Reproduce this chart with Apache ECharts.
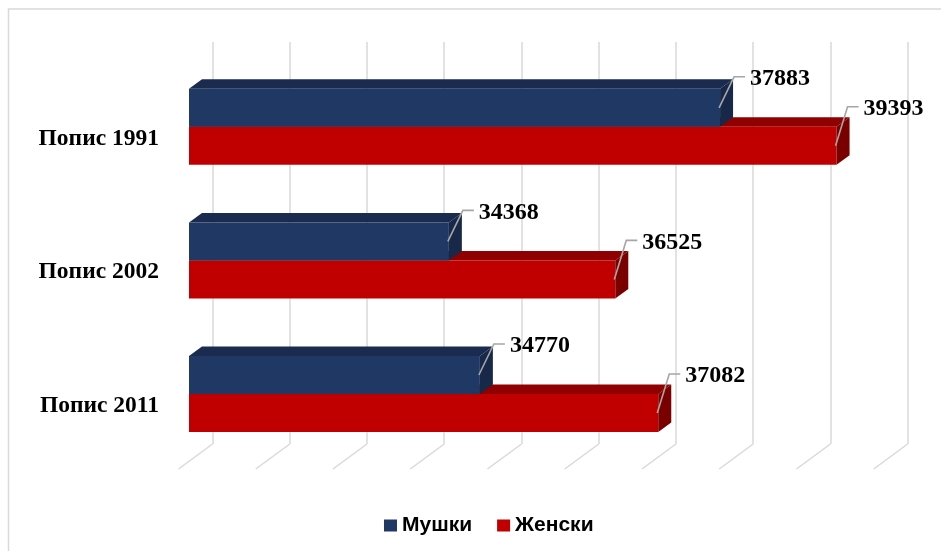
<!DOCTYPE html>
<html><head><meta charset="utf-8">
<script src="https://cdn.jsdelivr.net/npm/echarts@6/dist/echarts.min.js"></script>
<style>html,body{margin:0;padding:0;background:#fff}#c{width:941px;height:551px}</style>
</head><body><div id="c"></div>
<script>
// ---- data ----
const categories = ['Попис 1991', 'Попис 2002', 'Попис 2011'];
const maleValues = [37883, 34368, 34770];
const femaleValues = [39393, 36525, 37082];
const seriesNames = ['Мушки', 'Женски'];
const axisTicks = [31000, 32000, 33000, 34000, 35000, 36000, 37000, 38000, 39000, 40000];
const axisMin = 31000, axisMax = 40000, axisInterval = 1000;

// ---- style constants ----
const BAR_H = 38, DX = 13, DY = -9.5, FLOOR_DX = -34, FLOOR_DY = 25;
const GRID_COLOR = '#d9d9d9';
const blueColors = { front: '#203864', top: '#1b2b4f', side: '#172848' };
const redColors = { front: '#c00000', top: '#900000', side: '#7a0000' };
const blueLabel = { kx: 14, ky: -12 };
const redLabel = { kx: 11, ky: -20 };

function barRenderer(upper, colors, lbl) {
  return function (params, api) {
    const v = api.value(0), c = api.value(1);
    const p0 = api.coord([axisMin, c]);
    const p1 = api.coord([v, c]);
    const h = BAR_H;
    const yTop = upper ? p1[1] - h : p1[1];
    const x0 = p0[0], x1 = p1[0];
    const kx = x1 + lbl.kx, ky = yTop + lbl.ky;
    return {
      type: 'group', children: [
        { type: 'polygon', shape: { points: [[x0, yTop], [x1, yTop], [x1 + DX, yTop + DY], [x0 + DX, yTop + DY]] }, style: { fill: colors.top } },
        { type: 'rect', shape: { x: x0, y: yTop, width: x1 - x0, height: h }, style: { fill: colors.front } },
        { type: 'polygon', shape: { points: [[x1, yTop], [x1 + DX, yTop + DY], [x1 + DX, yTop + h + DY], [x1, yTop + h]] }, style: { fill: colors.side } },
        { type: 'polyline', shape: { points: [[x1 - 1, yTop + h / 2], [kx, ky], [kx + 11, ky]] }, style: { stroke: '#a6a6a6', lineWidth: 1.6, fill: 'none' } },
        { type: 'text', x: kx + 16, y: ky + 2, style: { text: String(v), fontFamily: 'Liberation Serif', fontWeight: 'bold', fontSize: 24, fill: '#000', align: 'left', verticalAlign: 'middle' } }
      ]
    };
  };
}

function floorRenderer(params, api) {
  const p = api.coord([api.value(0), 0]);
  return { type: 'line', shape: { x1: p[0], y1: p[1], x2: p[0] + FLOOR_DX, y2: p[1] + FLOOR_DY }, style: { stroke: GRID_COLOR, lineWidth: 1.5 } };
}

const chart = echarts.init(document.getElementById('c'));
chart.setOption({
  backgroundColor: '#fff',
  animation: false,
  graphic: [{ type: 'rect', shape: { x: 8.5, y: 9, width: 1000, height: 700 }, style: { fill: 'none', stroke: GRID_COLOR, lineWidth: 1.5 }, z: 0 }],
  legend: {
    data: seriesNames, left: 379, top: 510, icon: 'rect', itemWidth: 13, itemHeight: 12, itemGap: 25,
    textStyle: { fontFamily: 'Liberation Sans', fontWeight: 'bold', fontSize: 21, color: '#000', padding: [0, 0, 0, 0] }
  },
  grid: [
    { left: 189, top: 60, width: 694.4, height: 400.8 },
    { left: 212.5, top: 42, width: 695.2, height: 402 }
  ],
  xAxis: [
    { type: 'value', gridIndex: 0, min: axisMin, max: axisMax, interval: axisInterval, show: false },
    { type: 'value', gridIndex: 1, min: axisMin, max: axisMax, interval: axisInterval,
      axisLine: { show: false }, axisTick: { show: false }, axisLabel: { show: false },
      splitLine: { show: true, lineStyle: { color: GRID_COLOR, width: 1.5 } } }
  ],
  yAxis: [
    { type: 'category', gridIndex: 0, data: categories, inverse: true,
      axisLine: { show: false }, axisTick: { show: false }, splitLine: { show: false },
      axisLabel: { margin: 30, verticalAlign: 'top', fontFamily: 'Liberation Serif', fontWeight: 'bold', fontSize: 23.5, color: '#000' } },
    { type: 'value', gridIndex: 1, min: 0, max: 1, show: false, splitLine: { show: false } }
  ],
  series: [
    { type: 'custom', name: 'floor', xAxisIndex: 1, yAxisIndex: 1, data: axisTicks.map(t => [t]), renderItem: floorRenderer, z: 1, silent: true, clip: false },
    { type: 'custom', name: seriesNames[1], xAxisIndex: 0, yAxisIndex: 0, data: femaleValues.map((v, i) => [v, i]),
      encode: { x: 0, y: 1 }, renderItem: barRenderer(false, redColors, redLabel), itemStyle: { color: redColors.front }, z: 2, clip: false },
    { type: 'custom', name: seriesNames[0], xAxisIndex: 0, yAxisIndex: 0, data: maleValues.map((v, i) => [v, i]),
      encode: { x: 0, y: 1 }, renderItem: barRenderer(true, blueColors, blueLabel), itemStyle: { color: blueColors.front }, z: 3, clip: false }
  ]
});
</script></body></html>
